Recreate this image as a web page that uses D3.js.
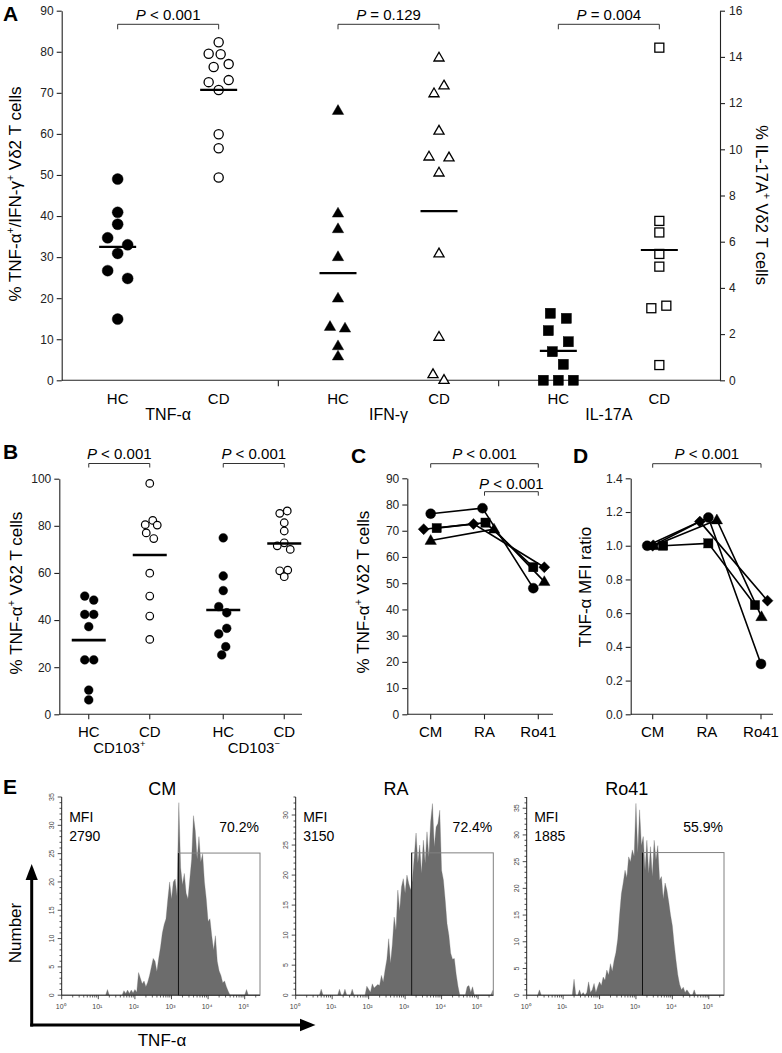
<!DOCTYPE html>
<html><head><meta charset="utf-8">
<script src="https://cdn.jsdelivr.net/npm/d3@7"></script>
<style>body{margin:0;background:#fff}svg{display:block}text{font-family:"Liberation Sans",Arial,Helvetica,sans-serif}</style>
</head><body><svg id="chart"></svg>
<script>
// ---------------- DATA ----------------
// Panel A
const aGroups = ["TNF-α", "IFN-γ", "IL-17A"];
const aCats = ["HC", "CD"];
const aTnfHC = [49.0, 40.9, 38.0, 34.7, 33.0, 30.9, 26.7, 24.8, 14.9];
const aTnfHCJit = [0, 0, 0, -1, 1, 0, -1, 1, 0];
const aTnfCD = [82.3, 79.5, 79.4, 77.0, 76.3, 73.1, 72.6, 70.7, 59.9, 56.5, 49.4];
const aTnfCDJit = [0, -1, 0.2, 1, -0.5, 1, -1, 0, 0, 0, 0];
const aIfnHC = [65.7, 40.7, 36.9, 30.1, 20.0, 13.1, 12.7, 8.4, 5.9];
const aIfnHCJit = [0, 0, 0, 0, 0, -0.8, 0.7, 0, 0];
const aIfnCD = [78.6, 71.8, 69.9, 60.8, 54.5, 54.3, 50.6, 30.9, 10.6, 1.5, 0.1];
const aIfnCDJit = [0, 0.5, -0.5, 0, -1, 1, 0, 0, 0, -0.6, 0.5];
const aIl17HC = [2.9, 2.68, 2.15, 1.67, 1.24, 0.69, 0, 0, 0];
const aIl17HCJit = [-0.8, 0.8, -1, 1, -0.6, 0.5, -1.5, 0, 1.5];
const aIl17CD = [14.4, 6.9, 6.4, 5.47, 4.92, 3.12, 3.23, 0.66];
const aIl17CDJit = [0, 0, 0, 0, 0, -0.8, 0.7, 0];
const aMeans = [32.5, 70.7, 26.1, 41.2, 1.27, 5.64];
const aPvals = ["= 0.129", "< 0.001", "= 0.004"];
const aPOrder = [1, 0, 2];
const aLeftTicks = [0, 10, 20, 30, 40, 50, 60, 70, 80, 90];
const aRightTicks = [0, 2, 4, 6, 8, 10, 12, 14, 16];

// Panel B
const bGroups = ["CD103+", "CD103-"];
const bCats = ["HC", "CD"];
const bPosHC = [50.2, 48.5, 42.4, 42.4, 37.2, 23.1, 23.1, 10.3, 6.1];
const bPosHCJit = [-0.4, 0.5, -0.4, 0.5, 0, -0.4, 0.5, 0, 0];
const bPosCD = [98.0, 82.3, 80.5, 80.3, 77.0, 74.6, 59.9, 50.2, 41.7, 31.8];
const bPosCDJit = [0, 0.3, -0.45, 0.75, -0.35, 0.4, 0, 0, 0, 0];
const bNegHC = [74.9, 58.7, 52.5, 45.7, 43.1, 36.5, 34.1, 28.7, 25.2];
const bNegHCJit = [0, 0, 0, -0.45, 0.35, 0.35, -0.45, 0.25, -0.15];
const bNegCD = [86.3, 85.3, 81.3, 77.8, 72.8, 71.5, 70.0, 61.2, 60.9, 58.4];
const bNegCDJit = [0.3, -0.45, 0, 0, 0, -0.7, 0.6, 0.35, -0.45, 0];
const bMeans = [31.5, 67.6, 44.3, 72.5];
const bTicks = [0, 20, 40, 60, 80, 100];

// Panel C
const cConds = ["CM", "RA", "Ro41"];
const cCircle = [76.5, 78.6, 48.1],  cCircleJit = [0, -0.2, -0.5];
const cSquare = [71.0, 73.1, 56.1],  cSquareJit = [0.6, 0.1, -0.5];
const cDiamond = [70.6, 72.6, 56.1], cDiamondJit = [-0.7, -1.1, 0.6];
const cTriangle = [66.3, 70.6, 50.6], cTriangleJit = [0, 0.95, 0.6];
const cTicks = [0, 10, 20, 30, 40, 50, 60, 70, 80, 90];

// Panel D
const dCircle = [1.0, 1.167, 0.299],  dCircleJit = [-0.55, 0.15, 0];
const dSquare = [1.0, 1.014, 0.648],  dSquareJit = [1.05, 0.15, -0.6];
const dDiamond = [1.0, 1.143, 0.674], dDiamondJit = [0, -0.7, 0.65];
const dTriangle = [1.0, 1.153, 0.579], dTriangleJit = [0.1, 1.0, 0.05];
const dTicks = [0, 0.2, 0.4, 0.6, 0.8, 1.0, 1.2, 1.4];

// Panel E (histogram counts per 0.05 log10 bin, starting at log10 = 0)
const histBinStep = 0.05;
const cmCounts = [0,0,0,0,0,0,0,0,0,0, 0,0,0,0,0,0,0,0,0,0, 0,0,0,0,0,1,0,0,0,0, 0,0,0,0,0.8,0.3,0.9,0.3,0.9,0.4,
  1,0.5,4,3,2,2.5,1.5,2.3,3.5,5, 6.5,6,4.2,6.5,8.5,11,12.5,13.5,17,20, 17,20,20.5,17.5,34,22.5,19.5,21.5,18,17,
  20.5,24,31.7,29,24,28,23.5,25,20,17, 13,13.5,10.5,8,10.5,6,4.3,3.5,2.2,2.5, 1.5,0.7,0,0,0,0,0,0,0,0, 0,1,0,0,0,0,0,0,0];
const raCounts = [0,0,0,0,0,0,0,0,0,0, 0,0,0,0,1,0,0,0,0,0, 0,0,0,0,1,0,0,1,0,0, 0,1,0,0,0,0,0,0,0,1.5,
  1,0.5,1.9,1.2,1.5,1.8,1.6,3.3,2.2,4.2, 6,9.4,5.3,8.5,13,10.8,17.5,14,18,19.4, 17,20,18.6,17.5,19.2,23,27,22,25,20.3,
  25.8,22,27.2,23,28.9,31.9,24.7,28,28.6,30.8, 20.8,19.2,15.8,11.9,10,7,6,6.1,3.5,1.5, 0,0,0,0,1.4,1.6,0.5,1.4,0,0, 0,0,0,0,0,0,0,0,0.8];
const ro41Counts = [0,0,0,0,0,0,0,1,0,0, 0,0,0,0,0,0,0,0,0,0, 0,0,0,0,0,0,3,0,0,1, 0,0.5,0,0.5,2.5,0.5,1,2.2,0.5,1.6,
  2.5,1.8,3.4,2.8,4.7,3.8,5.9,4.5,6.5,8, 10.5,15,19,21,23.4,22,25.9,25,27.2,26, 35.9,26.6,34.7,28,29.7,23.4,29,22.8,27.8,22.2,
  29,25.3,28,21.5,22.2,18,21,19.7,17.5,15, 13,9.5,6.5,3.8,2,1,1.5,0.5,1,0.5, 0,0,1,0,0,0,0,0,0,0, 0,0,0,0,0,0,0,0,0];
const histNames = ["CM", "RA", "Ro41"];
const histMFI = ["2790", "3150", "1885"];
const histPct = ["70.2%", "72.4%", "55.9%"];
const histYMax = [35, 33, 37.1];
const gateLow = [3.19, 3.18, 3.18];
const gateHeight = [25.1, 23.7, 26.7];
const logMax = 5.418;

// ---------------- DRAWING ----------------
const W = 782, H = 1053;
const FONT = '"Liberation Sans", Arial, Helvetica, sans-serif';
const svg = d3.select("#chart").attr("width", W).attr("height", H);
svg.append("rect").attr("width", W).attr("height", H).attr("fill", "#fff");

function txt(g, x, y, parts, o = {}) {
  const fs = o.size || 12;
  const t = g.append("text").attr("x", x).attr("y", y).attr("font-size", fs)
    .attr("text-anchor", o.anchor || "middle").attr("fill", o.fill || "#000").attr("font-family", FONT);
  if (o.weight) t.attr("font-weight", o.weight);
  if (o.transform) t.attr("transform", o.transform);
  if (typeof parts === "string") parts = [parts];
  let shifted = 0;
  parts.forEach(p => {
    if (typeof p === "string") p = { t: p };
    const ts = t.append("tspan").text(p.t);
    if (p.sup) { ts.attr("font-size", fs * 0.62).attr("dy", -fs * 0.4); shifted = fs * 0.4; }
    else if (shifted) { ts.attr("dy", shifted); shifted = 0; }
    if (p.it) ts.attr("font-style", "italic");
  });
  return t;
}

function marker(g, shape, x, y, filled, r, sw) {
  let el;
  if (shape === "circle") el = g.append("circle").attr("cx", x).attr("cy", y).attr("r", r);
  else if (shape === "square") el = g.append("rect").attr("x", x - r).attr("y", y - r).attr("width", 2 * r).attr("height", 2 * r);
  else if (shape === "triangle") {
    const h = r * 1.9;
    el = g.append("path").attr("d", `M${x},${y - h * 0.6}L${x + r * 1.1},${y + h * 0.4}L${x - r * 1.1},${y + h * 0.4}Z`);
  } else if (shape === "diamond") {
    const d = r * 1.2;
    el = g.append("path").attr("d", `M${x},${y - d}L${x + d},${y}L${x},${y + d}L${x - d},${y}Z`);
  }
  el.attr("fill", filled ? "#000" : "#fff").attr("stroke", "#000").attr("stroke-width", filled ? 0.4 : (sw || 1.3));
}

function styleAxis(a, size) {
  a.attr("font-family", FONT);
  a.select(".domain").attr("stroke", "#222").attr("stroke-width", 1.1);
  a.selectAll(".tick line").attr("stroke", "#222").attr("stroke-width", 1.1);
  a.selectAll(".tick text").attr("font-size", size || 12).attr("fill", "#222");
}

function bracket(g, x1, x2, y, drop, label, ty, size) {
  g.append("path").attr("d", `M${x1},${y + drop}V${y}H${x2}V${y + drop}`)
    .attr("fill", "none").attr("stroke", "#333").attr("stroke-width", 1);
  txt(g, (x1 + x2) / 2, ty, [{ t: "P", it: true }, { t: " " + label }], { size: size || 15 });
}

function panelLetter(t, x, y) {
  txt(svg, x, y, t, { size: 21, weight: "bold", anchor: "start" });
}

// ===== Panel A =====
const gA = svg.append("g");
const xGA = d3.scaleBand().domain(aGroups).range([58, 719]);
const xCA = d3.scalePoint().domain(aCats).range([-50.5, 50.5]);
const xA = (g, c) => xGA(g) + xGA.bandwidth() / 2 + xCA(c);
const yAL = d3.scaleLinear().domain([0, 90]).range([380.3, 10.7]);
const yAR = d3.scaleLinear().domain([0, 16]).range([380.3, 10.7]);
const JA = 10;

styleAxis(gA.append("g").attr("transform", "translate(61.7,0)")
  .call(d3.axisLeft(yAL).tickValues(aLeftTicks).tickSize(5).tickPadding(3).tickSizeOuter(0)));
styleAxis(gA.append("g").attr("transform", "translate(720,0)")
  .call(d3.axisRight(yAR).tickValues(aRightTicks).tickSize(5).tickPadding(4).tickSizeOuter(0)));
gA.append("line").attr("x1", 61.7).attr("x2", 720).attr("y1", yAL(0)).attr("y2", yAL(0)).attr("stroke", "#222").attr("stroke-width", 1.1);
aGroups.slice(1).forEach(g => {
  gA.append("line").attr("x1", xGA(g)).attr("x2", xGA(g)).attr("y1", yAL(0)).attr("y2", yAL(0) + 6).attr("stroke", "#222").attr("stroke-width", 1.1);
});

const aSeries = [
  { g: aGroups[0], c: "HC", v: aTnfHC, j: aTnfHCJit, s: "circle", f: true, y: yAL, r: 5.5 },
  { g: aGroups[0], c: "CD", v: aTnfCD, j: aTnfCDJit, s: "circle", f: false, y: yAL, r: 4.6 },
  { g: aGroups[1], c: "HC", v: aIfnHC, j: aIfnHCJit, s: "triangle", f: true, y: yAL, r: 5.2 },
  { g: aGroups[1], c: "CD", v: aIfnCD, j: aIfnCDJit, s: "triangle", f: false, y: yAL, r: 4.6 },
  { g: aGroups[2], c: "HC", v: aIl17HC, j: aIl17HCJit, s: "square", f: true, y: yAR, r: 5.1 },
  { g: aGroups[2], c: "CD", v: aIl17CD, j: aIl17CDJit, s: "square", f: false, y: yAR, r: 4.5 }
];
aSeries.forEach((ser, i) => {
  const cx = xA(ser.g, ser.c);
  ser.v.forEach((v, k) => marker(gA, ser.s, cx + ser.j[k] * JA, ser.y(v), ser.f, ser.r, 1.3));
  gA.append("line").attr("x1", cx - 18.5).attr("x2", cx + 18.5)
    .attr("y1", ser.y(aMeans[i])).attr("y2", ser.y(aMeans[i])).attr("stroke", "#000").attr("stroke-width", 2.2);
});
aGroups.forEach((g, i) => {
  aCats.forEach(c => txt(gA, xA(g, c), 403.5, c, { size: 15 }));
  txt(gA, xGA(g) + xGA.bandwidth() / 2, 420, g, { size: 16 });
  bracket(gA, xA(g, "HC"), xA(g, "CD"), 24.3, 5, aPvals[aPOrder[i]], 19.5, 15);
});
txt(gA, 0, 0, ["% TNF-α", { t: "+", sup: true }, "/IFN-γ", { t: "+", sup: true }, " Vδ2 T cells"],
  { size: 17, transform: "translate(21,194) rotate(-90)" });
txt(gA, 0, 0, ["% IL-17A", { t: "+", sup: true }, " Vδ2 T cells"],
  { size: 16.5, transform: "translate(756,205) rotate(90)" });
panelLetter("A", 3, 20.5);

// ===== Panel B =====
const gB = svg.append("g");
const xGB = d3.scaleBand().domain(bGroups).range([52, 321]);
const xCB = d3.scalePoint().domain(bCats).range([-30.5, 30.5]);
const xB = (g, c) => xGB(g) + xGB.bandwidth() / 2 + xCB(c);
const yB = d3.scaleLinear().domain([0, 100]).range([714.3, 478.7]);
styleAxis(gB.append("g").attr("transform", "translate(59.3,0)")
  .call(d3.axisLeft(yB).tickValues(bTicks).tickSize(5).tickPadding(3).tickSizeOuter(0)));
gB.append("line").attr("x1", 59.3).attr("x2", 302).attr("y1", yB(0)).attr("y2", yB(0)).attr("stroke", "#222").attr("stroke-width", 1.1);
const bSeries = [
  { g: bGroups[0], c: "HC", v: bPosHC, j: bPosHCJit, f: true },
  { g: bGroups[0], c: "CD", v: bPosCD, j: bPosCDJit, f: false },
  { g: bGroups[1], c: "HC", v: bNegHC, j: bNegHCJit, f: true },
  { g: bGroups[1], c: "CD", v: bNegCD, j: bNegCDJit, f: false }
];
bSeries.forEach((ser, i) => {
  const cx = xB(ser.g, ser.c);
  gB.append("line").attr("x1", cx).attr("x2", cx).attr("y1", yB(0)).attr("y2", yB(0) + 5).attr("stroke", "#222").attr("stroke-width", 1.1);
  ser.v.forEach((v, k) => marker(gB, "circle", cx + ser.j[k] * 10, yB(v), ser.f, ser.f ? 4.4 : 3.8, 1.2));
  gB.append("line").attr("x1", cx - 17).attr("x2", cx + 17).attr("y1", yB(bMeans[i])).attr("y2", yB(bMeans[i]))
    .attr("stroke", "#000").attr("stroke-width", 2.6);
  txt(gB, cx, 737, ser.c, { size: 15 });
});
txt(gB, xGB(bGroups[0]) + xGB.bandwidth() / 2, 753, ["CD103", { t: "+", sup: true }], { size: 15 });
txt(gB, xGB(bGroups[1]) + xGB.bandwidth() / 2, 753, ["CD103", { t: "−", sup: true }], { size: 15 });
bGroups.forEach(g => bracket(gB, xB(g, "HC"), xB(g, "CD"), 463.5, 4, "< 0.001", 458.5, 15));
txt(gB, 0, 0, ["% TNF-α", { t: "+", sup: true }, " Vδ2 T cells"], { size: 17, transform: "translate(22,593) rotate(-90)" });
panelLetter("B", 3, 459);

// ===== Panels C & D =====
function linePanel(xr, axisX, axisEnd, yScale, ticks, fmt, series, jitUnit) {
  const g = svg.append("g");
  const x = d3.scalePoint().domain(cConds).range(xr);
  styleAxis(g.append("g").attr("transform", `translate(${axisX},0)`)
    .call(d3.axisLeft(yScale).tickValues(ticks).tickFormat(fmt).tickSize(5).tickPadding(3).tickSizeOuter(0)));
  const y0 = yScale.range()[0];
  g.append("line").attr("x1", axisX).attr("x2", axisEnd).attr("y1", y0).attr("y2", y0).attr("stroke", "#222").attr("stroke-width", 1.1);
  cConds.forEach(c => {
    g.append("line").attr("x1", x(c)).attr("x2", x(c)).attr("y1", y0).attr("y2", y0 + 5).attr("stroke", "#222").attr("stroke-width", 1.1);
    txt(g, x(c), 737, c, { size: 15 });
  });
  const line = d3.line().x(d => d[0]).y(d => d[1]);
  series.forEach(s => {
    const pts = s.v.map((v, k) => [x(cConds[k]) + s.j[k] * jitUnit, yScale(v)]);
    g.append("path").attr("d", line(pts)).attr("fill", "none").attr("stroke", "#000").attr("stroke-width", 1.6);
  });
  series.forEach(s => {
    s.v.forEach((v, k) => marker(g, s.s, x(cConds[k]) + s.j[k] * jitUnit, yScale(v), true, s.r));
  });
  return { g, x };
}
const yC = d3.scaleLinear().domain([0, 90]).range([714.3, 478.3]);
const pc = linePanel([430.7, 538.3], 407.3, 553, yC, cTicks, d3.format("d"), [
  { v: cTriangle, j: cTriangleJit, s: "triangle", r: 5.2 },
  { v: cDiamond, j: cDiamondJit, s: "diamond", r: 4.6 },
  { v: cSquare, j: cSquareJit, s: "square", r: 4.6 },
  { v: cCircle, j: cCircleJit, s: "circle", r: 5.0 }
], 10);
bracket(pc.g, pc.x("CM"), pc.x("Ro41"), 463.7, 4, "< 0.001", 459, 15);
bracket(pc.g, pc.x("RA"), pc.x("Ro41"), 491.7, 4, "< 0.001", 488.5, 15);
txt(svg, 0, 0, ["% TNF-α", { t: "+", sup: true }, " Vδ2 T cells"], { size: 17, transform: "translate(368.5,592) rotate(-90)" });
panelLetter("C", 351, 463);

const yD = d3.scaleLinear().domain([0, 1.4]).range([714.3, 478.3]);
const pd = linePanel([652.7, 761], 630.7, 773, yD, dTicks, d3.format(".1f"), [
  { v: dTriangle, j: dTriangleJit, s: "triangle", r: 5.2 },
  { v: dDiamond, j: dDiamondJit, s: "diamond", r: 4.6 },
  { v: dSquare, j: dSquareJit, s: "square", r: 4.6 },
  { v: dCircle, j: dCircleJit, s: "circle", r: 5.0 }
], 10);
bracket(pd.g, pd.x("CM"), pd.x("Ro41"), 463.7, 4, "< 0.001", 459, 15);
txt(svg, 0, 0, "TNF-α MFI ratio", { size: 17, transform: "translate(591,587) rotate(-90)" });
panelLetter("D", 573, 463);

// ===== Panel E =====
const histLayout = [
  { x0: 61.7, x1: 260 },
  { x0: 295.7, x1: 493.3 },
  { x0: 526.7, x1: 724 }
];
const histCounts = [cmCounts, raCounts, ro41Counts];
const hY0 = 995.2, hY1 = 797;
const decades = [0, 1, 2, 3, 4, 5];
const supDigits = ["⁰", "¹", "²", "³", "⁴", "⁵"];
histNames.forEach((name, i) => {
  const L = histLayout[i];
  const g = svg.append("g");
  const x = d3.scaleLinear().domain([0, logMax]).range([L.x0, L.x1]);
  const y = d3.scaleLinear().domain([0, histYMax[i]]).range([hY0, hY1]);
  const data = histCounts[i].map((c, k) => ({ l: k * histBinStep, c }));
  const area = d3.area().x(d => x(d.l)).y0(y(0)).y1(d => y(d.c));
  g.append("path").attr("d", area(data)).attr("fill", "#6c6c6c").attr("stroke", "#6c6c6c").attr("stroke-width", 0.3);
  // gate
  const gx = x(gateLow[i]), gy = y(gateHeight[i]);
  g.append("rect").attr("x", gx).attr("y", gy).attr("width", x(logMax) - gx).attr("height", y(0) - gy)
    .attr("fill", "none").attr("stroke", "#808080").attr("stroke-width", 1);
  g.append("line").attr("x1", gx).attr("x2", gx).attr("y1", y(0)).attr("y2", gy).attr("stroke", "#111").attr("stroke-width", 1);
  // y axis
  g.append("line").attr("x1", L.x0).attr("x2", L.x0).attr("y1", hY0).attr("y2", hY1).attr("stroke", "#222").attr("stroke-width", 1);
  d3.range(0, Math.floor(histYMax[i]) + 1).forEach(v => {
    const major = v % 5 === 0;
    g.append("line").attr("x1", L.x0).attr("x2", L.x0 - (major ? 4 : 2.2)).attr("y1", y(v)).attr("y2", y(v))
      .attr("stroke", "#222").attr("stroke-width", 0.8);
    if (major) txt(g, 0, 0, String(v), { size: 7, fill: "#444", transform: `translate(${L.x0 - 8},${y(v)}) rotate(-90)` });
  });
  // x axis
  g.append("line").attr("x1", L.x0).attr("x2", L.x1).attr("y1", hY0).attr("y2", hY0).attr("stroke", "#222").attr("stroke-width", 1);
  decades.forEach(dd => {
    g.append("line").attr("x1", x(dd)).attr("x2", x(dd)).attr("y1", hY0).attr("y2", hY0 + 4).attr("stroke", "#222").attr("stroke-width", 0.8);
    for (let m = 2; m <= 9; m++) {
      const lv = dd + Math.log10(m);
      if (lv > logMax) break;
      g.append("line").attr("x1", x(lv)).attr("x2", x(lv)).attr("y1", hY0).attr("y2", hY0 + 2.3).attr("stroke", "#222").attr("stroke-width", 0.7);
    }
    txt(g, x(dd) - 1, 1009, "10" + supDigits[dd], { size: 7, fill: "#444" });
  });
  txt(g, (L.x0 + L.x1) / 2 + 1.5, 795, name, { size: 18 });
  txt(g, L.x0 + 7.5, 822, "MFI", { size: 14, anchor: "start" });
  txt(g, L.x0 + 7.5, 841, histMFI[i], { size: 14, anchor: "start" });
  txt(g, L.x1 - 1, 832, histPct[i], { size: 14, anchor: "end" });
});
// big arrows
svg.append("line").attr("x1", 31.7).attr("x2", 31.7).attr("y1", 1026.5).attr("y2", 876).attr("stroke", "#000").attr("stroke-width", 3);
svg.append("path").attr("d", "M31.7,864L37.8,880L25.6,880Z").attr("fill", "#000");
svg.append("line").attr("x1", 30.2).attr("x2", 303).attr("y1", 1025).attr("y2", 1025).attr("stroke", "#000").attr("stroke-width", 3);
svg.append("path").attr("d", "M315.5,1025L300,1018.8L300,1031.2Z").attr("fill", "#000");
txt(svg, 0, 0, "Number", { size: 17, transform: "translate(21,933) rotate(-90)" });
txt(svg, 162, 1046, "TNF-α", { size: 17 });
panelLetter("E", 3, 794);
</script></body></html>
